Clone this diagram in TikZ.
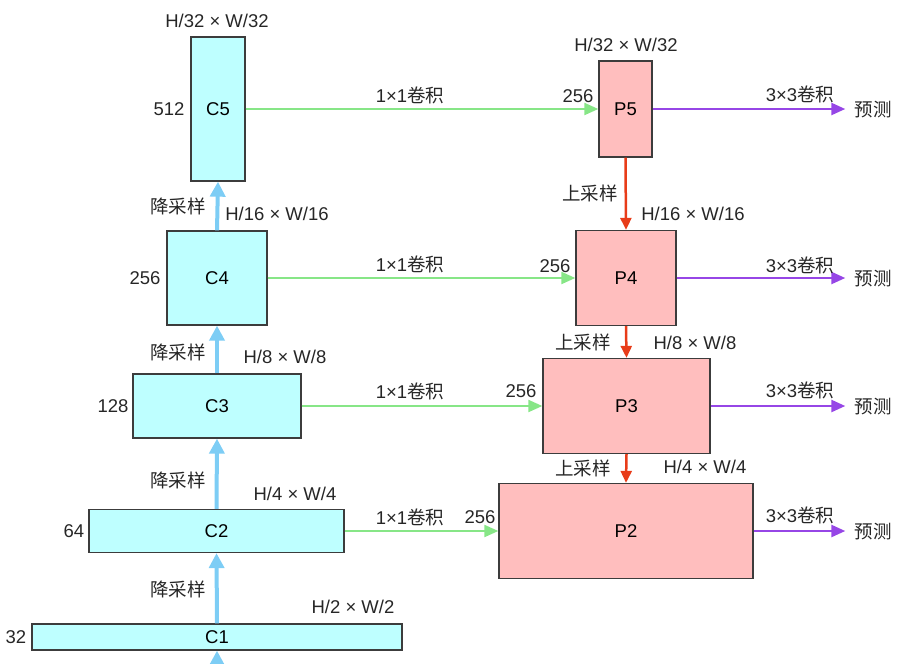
\documentclass[tikz,border=0pt]{standalone}
\usepackage{fontspec}
\setmainfont{Liberation Sans}
\newfontfamily\cjk{Noto Sans CJK SC}
\usetikzlibrary{arrows.meta}
\definecolor{cfill}{RGB}{190,255,255}
\definecolor{pfill}{RGB}{255,190,190}
\definecolor{bord}{RGB}{60,60,60}
\definecolor{garr}{RGB}{135,230,135}
\definecolor{barr}{RGB}{125,205,245}
\definecolor{rarr}{RGB}{232,60,25}
\definecolor{parr}{RGB}{150,70,230}
\begin{document}
\begin{tikzpicture}[x=1pt,y=-1pt,
  font=\fontsize{18.5}{22}\selectfont,
  cbox/.style={draw=bord,line width=1.3pt,fill=cfill,inner sep=0pt,anchor=center},
  pbox/.style={draw=bord,line width=1.3pt,fill=pfill,inner sep=0pt,anchor=center},
  lbl/.style={inner sep=0pt,anchor=center,text=black!85},
  garrow/.style={draw=garr,line width=2pt,-{Triangle[length=14pt,width=12pt]}},
  barrow/.style={draw=barr,line width=4pt,-{Triangle[length=15pt,width=15pt]}},
  rarrow/.style={draw=rarr,line width=2.5pt,-{Triangle[length=12pt,width=11pt]}},
  parrow/.style={draw=parr,line width=2.5pt,shorten >=9pt,-{Triangle[length=14pt,width=12pt]}}]
\useasboundingbox (0,0) rectangle (905,664);
% C boxes
\node[cbox,minimum width=54pt,minimum height=144pt] (C5) at (218,109) {C5};
\node[cbox,minimum width=100pt,minimum height=94pt] (C4) at (217,278) {C4};
\node[cbox,minimum width=168pt,minimum height=64pt] (C3) at (217,406) {C3};
\node[cbox,minimum width=255pt,minimum height=43pt] (C2) at (216.5,531) {C2};
\node[cbox,minimum width=370pt,minimum height=26pt] (C1) at (217,637) {C1};
% P boxes
\node[pbox,minimum width=53pt,minimum height=96pt] (P5) at (625.5,109) {P5};
\node[pbox,minimum width=100pt,minimum height=95pt] (P4) at (626,278) {P4};
\node[pbox,minimum width=167pt,minimum height=95pt] (P3) at (626.5,406) {P3};
\node[pbox,minimum width=254pt,minimum height=95pt] (P2) at (626,531) {P2};
% bottom input
\coordinate (in) at (217,680);
% blue arrows
\draw[barrow] (in) -- (C1.south);
\draw[barrow] (C1.north) -- (C2.south);
\draw[barrow] (C2.north) -- (C3.south);
\draw[barrow] (C3.north) -- (C4.south);
\draw[barrow] (C4.north) -- (C5.south);
% green arrows
\draw[garrow] (C5.east) -- (P5.west);
\draw[garrow] (C4.east) -- (P4.west);
\draw[garrow] (C3.east) -- (P3.west);
\draw[garrow] (C2.east) -- (P2.west);
% red arrows
\draw[rarrow] (P5.south) -- (P4.north);
\draw[rarrow] (P4.south) -- (P3.north);
\draw[rarrow] (P3.south) -- (P2.north);
% outputs
\node[lbl] (o5) at (873,110) {\cjk 预测};
\node[lbl] (o4) at (873,279) {\cjk 预测};
\node[lbl] (o3) at (873,407) {\cjk 预测};
\node[lbl] (o2) at (873,532) {\cjk 预测};
\draw[parrow] (P5.east) -- (P5.east -| o5.west);
\draw[parrow] (P4.east) -- (P4.east -| o4.west);
\draw[parrow] (P3.east) -- (P3.east -| o3.west);
\draw[parrow] (P2.east) -- (P2.east -| o2.west);
% 3x3 labels
\node[lbl] (k5) at (800,94) {3×3{\cjk 卷积}};
\node[lbl] (k4) at (800,265) {3×3{\cjk 卷积}};
\node[lbl] (k3) at (800,390) {3×3{\cjk 卷积}};
\node[lbl] (k2) at (800,515) {3×3{\cjk 卷积}};
% 1x1 labels
\node[lbl] (g5) at (410,95) {1×1{\cjk 卷积}};
\node[lbl] (g4) at (410,264) {1×1{\cjk 卷积}};
\node[lbl] (g3) at (410,391) {1×1{\cjk 卷积}};
\node[lbl] (g2) at (410,517) {1×1{\cjk 卷积}};
% channel numbers
\node[lbl] (n5) at (169,109) {512};
\node[lbl] (n4) at (145,278) {256};
\node[lbl] (n3) at (113,406) {128};
\node[lbl] (n2) at (74,531) {64};
\node[lbl] (n1) at (16,637) {32};
\node[lbl] (m5) at (578,96) {256};
\node[lbl] (m4) at (555,266) {256};
\node[lbl] (m3) at (521,391) {256};
\node[lbl] (m2) at (480,517) {256};
% size labels
\node[lbl] (s5) at (217,21) {H/32 × W/32};
\node[lbl] (s4) at (277,214) {H/16 × W/16};
\node[lbl] (s3) at (285,357) {H/8 × W/8};
\node[lbl] (s2) at (295,494) {H/4 × W/4};
\node[lbl] (s1) at (353,607) {H/2 × W/2};
\node[lbl] (t5) at (626,45) {H/32 × W/32};
\node[lbl] (t4) at (693,214) {H/16 × W/16};
\node[lbl] (t3) at (695,343) {H/8 × W/8};
\node[lbl] (t2) at (705,467) {H/4 × W/4};
% down-sampling labels
\node[lbl] (d4) at (178,206) {\cjk 降采样};
\node[lbl] (d3) at (178,352) {\cjk 降采样};
\node[lbl] (d2) at (178,480) {\cjk 降采样};
\node[lbl] (d1) at (178,589) {\cjk 降采样};
% up-sampling labels
\node[lbl] (u4) at (590,193) {\cjk 上采样};
\node[lbl] (u3) at (583,342) {\cjk 上采样};
\node[lbl] (u2) at (583,468) {\cjk 上采样};
\end{tikzpicture}
\end{document}
